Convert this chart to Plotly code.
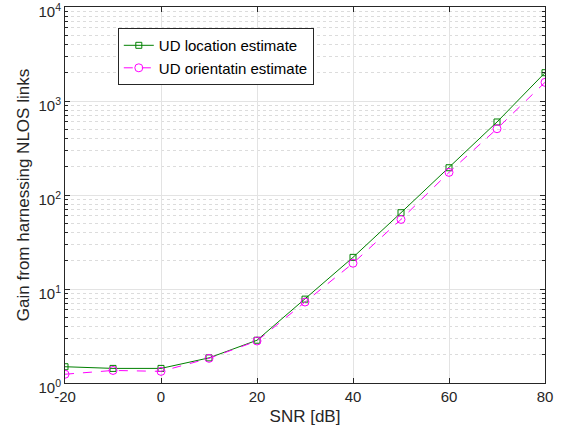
import plotly.graph_objects as go

snr = [-20, -10, 0, 10, 20, 30, 40, 50, 60, 70, 80]
loc_gain = [1.49, 1.43, 1.43, 1.85, 2.85, 7.8, 21.7, 64.8, 195, 598, 2000]
ori_gain = [1.24, 1.36, 1.33, 1.83, 2.8, 7.27, 18.8, 55, 174, 507, 1580]
x_ticks = [-20, 0, 20, 40, 60, 80]
x_tick_text = ["-20", "0", "20", "40", "60", "80"]
y_ticks = [1, 10, 100, 1000, 10000]
y_tick_text = ["10<sup>0</sup>", "10<sup>1</sup>", "10<sup>2</sup>", "10<sup>3</sup>", "10<sup>4</sup>"]
minor_vals = [m * d for d in [1, 10, 100, 1000] for m in range(2, 10)]

font = "Liberation Sans, Arial, sans-serif"

fig = go.Figure()
fig.add_trace(go.Scatter(
    x=snr, y=loc_gain, mode="lines+markers", name="UD location estimate",
    line=dict(color="#008000", width=1),
    marker=dict(symbol="square-open", size=6, color="#008000", line=dict(width=1)),
))
fig.add_trace(go.Scatter(
    x=snr, y=ori_gain, mode="lines+markers", name="UD orientatin estimate",
    line=dict(color="#FF00FF", width=1, dash="dash"),
    marker=dict(symbol="circle-open", size=8, color="#FF00FF", line=dict(width=1)),
))

axis_common = dict(
    showline=True, linecolor="#262626", linewidth=1, mirror="ticks",
    ticks="inside", tickcolor="#262626", ticklen=5,
    showgrid=True, gridcolor="#e3e3e3", gridwidth=1,
    zeroline=False, tickfont=dict(family=font, size=15, color="#262626"),
    ticklabeloverflow="allow", automargin=False,
)

fig.update_xaxes(
    range=[-20, 80], tickvals=x_ticks, ticktext=x_tick_text,
    title=dict(text="SNR [dB]", font=dict(family=font, size=17, color="#262626"), standoff=6),
    **axis_common,
)
fig.update_yaxes(
    type="log", range=[0, 4], tickvals=y_ticks, ticktext=y_tick_text,
    ticklabelshift=5,
    title=dict(text="Gain from harnessing NLOS links", font=dict(family=font, size=17, color="#262626"), standoff=4),
    minor=dict(tickvals=minor_vals, ticks="inside", ticklen=3, tickcolor="#262626",
               showgrid=True, gridcolor="#dcdcdc", griddash="dot", gridwidth=1),
    **axis_common,
)

fig.update_layout(
    width=569, height=437,
    margin=dict(l=65, r=24, t=7, b=54),
    plot_bgcolor="white", paper_bgcolor="white",
    font=dict(family=font, size=15, color="#262626"),
    legend=dict(
        x=0.11, y=0.944, xanchor="left", yanchor="top",
        bgcolor="white", bordercolor="#262626", borderwidth=1,
        font=dict(family=font, size=15, color="black"),
        tracegroupgap=0, itemwidth=30,
    ),
)

fig.write_html("out.html")
